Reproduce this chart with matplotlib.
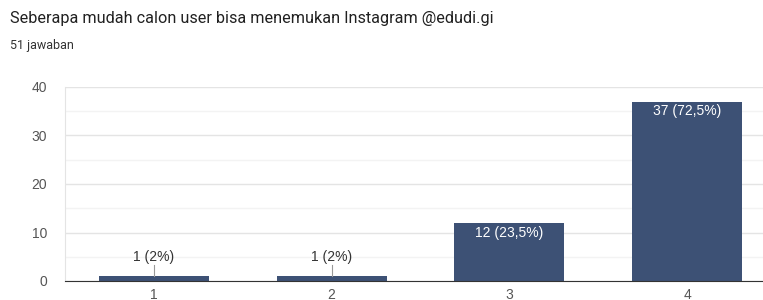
import matplotlib.pyplot as plt
from matplotlib.ticker import MultipleLocator

plt.rcParams['font.family'] = ['Liberation Sans', 'DejaVu Sans']

categories = ['1', '2', '3', '4']
counts = [1, 1, 12, 37]
labels = ['1 (2%)', '1 (2%)', '12 (23,5%)', '37 (72,5%)']

bar_color = '#3d5175'

fig = plt.figure(figsize=(7.63, 3.0), dpi=100)
ax = fig.add_axes([65/763, 1 - 281/300, 711/763, (281 - 87)/300])

x = list(range(1, len(categories) + 1))
ax.bar(x, counts, width=0.62, color=bar_color, zorder=3)

ax.set_xlim(0.5, 4.5)
ax.set_ylim(0, 40)
ax.yaxis.set_major_locator(MultipleLocator(10))
ax.yaxis.set_minor_locator(MultipleLocator(5))
ax.grid(axis='y', which='major', color='#e4e4e4', lw=1, zorder=0)
ax.grid(axis='y', which='minor', color='#f3f3f3', lw=1, zorder=0)
ax.set_xticks(x)
ax.set_xticklabels(categories)
ax.tick_params(axis='both', which='both', length=0, labelsize=10, labelcolor='#555555')
ax.tick_params(axis='y', pad=13)
ax.tick_params(axis='x', pad=5)

for s in ['top', 'right']:
    ax.spines[s].set_visible(False)
ax.spines['left'].set_color('#e4e4e4')
ax.spines['bottom'].set_color('#333333')
ax.spines['bottom'].set_zorder(4)

for xi, v, lab in zip(x, counts, labels):
    if v < 5:
        ax.plot([xi, xi], [v, v + 2.4], color='#999999', lw=0.8, zorder=4)
        ax.text(xi, v + 2.6, lab, ha='center', va='bottom', fontsize=10,
                color='#333333', zorder=5)
    else:
        ax.text(xi, v - 0.6, lab, ha='center', va='top', fontsize=10,
                color='white', zorder=5)

fig.text(10/763, 1 - 19/300, 'Seberapa mudah calon user bisa menemukan Instagram @edudi.gi',
         fontsize=11.7, color='#212121', va='center', ha='left', family=['Roboto', 'DejaVu Sans'])
fig.text(10/763, 1 - 45/300, '51 jawaban', fontsize=9, color='#333333',
         va='center', ha='left', family=['Roboto', 'DejaVu Sans'])

fig.savefig('out.png', dpi=100)
